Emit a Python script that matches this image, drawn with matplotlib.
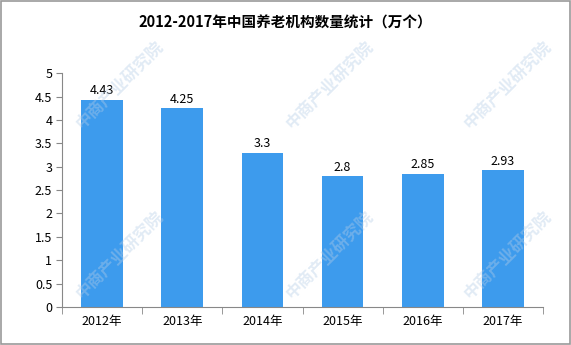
import matplotlib.pyplot as plt

plt.rcParams['font.family'] = ['Noto Sans CJK SC', 'DejaVu Sans']

years = ['2012年', '2013年', '2014年', '2015年', '2016年', '2017年']
counts = [4.43, 4.25, 3.3, 2.8, 2.85, 2.93]
count_labels = ['4.43', '4.25', '3.3', '2.8', '2.85', '2.93']
yticks = [0, 0.5, 1, 1.5, 2, 2.5, 3, 3.5, 4, 4.5, 5]

W, H = 571, 345
fig = plt.figure(figsize=(W / 100, H / 100), dpi=100)
ax = fig.add_axes([0.1086, 0.110, 0.8424, 0.678])

# faint diagonal watermark, kept inside the figure
for px in [120, 330, 508]:
    for py in [85, 255]:
        fig.text(px / W, 1 - py / H, '中商产业研究院', fontsize=12,
                 color='#b5cde6', alpha=0.4, rotation=45,
                 ha='center', va='center', zorder=0, fontweight='bold')

x = range(len(years))
ax.bar(x, counts, width=0.52, color='#3d9bed', zorder=2)
for xi, v, lab in zip(x, counts, count_labels):
    ax.text(xi, v + 0.05, lab, ha='center', va='bottom', fontsize=9, zorder=3)

ax.set_xlim(-0.5, len(years) - 0.5)
ax.set_ylim(0, 5)
ax.set_yticks(yticks)
ax.set_yticklabels([f'{t:g}' for t in yticks], fontsize=9)
ax.set_xticks(x)
ax.set_xticklabels(years, fontsize=9)
ax.tick_params(axis='x', length=0, pad=6)
ax.tick_params(axis='y', length=4, color='#888888', pad=3)
# category boundary ticks on the x axis
ax.set_xticks([i - 0.5 for i in range(len(years) + 1)], minor=True)
ax.tick_params(axis='x', which='minor', length=5, color='#888888')

for side in ['top', 'right']:
    ax.spines[side].set_visible(False)
for side in ['left', 'bottom']:
    ax.spines[side].set_color('#888888')
ax.patch.set_alpha(0)

fig.text(0.5, 0.935, '2012-2017年中国养老机构数量统计（万个）', ha='center', va='center',
         fontsize=10.5, fontweight='bold')

# outer frame
fig.patches.append(plt.Rectangle((0.001, 0.003), 0.997, 0.994, transform=fig.transFigure,
                                 fill=False, edgecolor='#999999', linewidth=1.2))

fig.savefig('out.png', dpi=100)
